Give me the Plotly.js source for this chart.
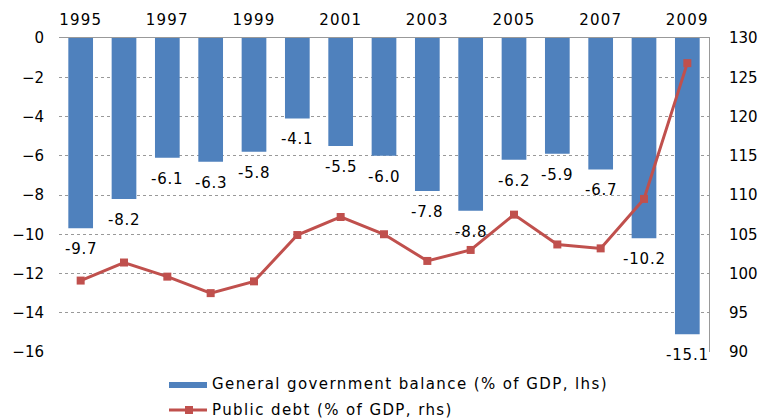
<!DOCTYPE html>
<html><head><meta charset="utf-8">
<script src="https://cdn.plot.ly/plotly-3.0.1.min.js"></script>
<style>html,body{margin:0;padding:0;background:#fff}#chart{width:761px;height:418px}</style>
</head><body><div id="chart"></div>
<script>
const years = [1995,1996,1997,1998,1999,2000,2001,2002,2003,2004,2005,2006,2007,2008,2009];
const balance = [-9.7,-8.2,-6.1,-6.3,-5.8,-4.1,-5.5,-6.0,-7.8,-8.8,-6.2,-5.9,-6.7,-10.2,-15.1];
const debt = [99.1,101.4,99.6,97.5,99.0,104.9,107.2,105.0,101.6,103.0,107.5,103.7,103.2,109.5,126.8];
const yearTicks = [1995,1997,1999,2001,2003,2005,2007,2009];
const balanceName = 'General government balance (% of GDP, lhs)';
const debtName = 'Public debt (% of GDP, rhs)';

const FAM = 'DejaVu Sans, Verdana, sans-serif';
const barColor = '#4F81BD', lineColor = '#C0504D';
const spaced = (s, ls) => '<span style="letter-spacing:' + ls + 'px">' + s + '</span>';

const traces = [
  {type: 'bar', x: years, y: balance, name: balanceName,
   marker: {color: barColor}, width: 0.57, showlegend: false},
  {type: 'scatter', mode: 'lines+markers', x: years, y: debt, yaxis: 'y2', name: debtName,
   line: {color: lineColor, width: 3}, marker: {symbol: 'square', size: 8, color: lineColor},
   showlegend: false, cliponaxis: false}
];

// data labels below each bar end
const annotations = years.map((yr, i) => ({
  x: yr, y: balance[i], xref: 'x', yref: 'y', text: spaced(balance[i].toFixed(1), 0.8),
  showarrow: false, yanchor: 'top', yshift: -10, font: {family: FAM, size: 15, color: '#000'}
}));

// custom legend (wide swatches like the reference)
const px = v => (v - 59) / 650, py = v => (352 - v) / 314;
const shapes = [
  {type: 'rect', xref: 'paper', yref: 'paper', x0: px(169), x1: px(207), y0: py(382), y1: py(388),
   fillcolor: barColor, line: {width: 0}},
  {type: 'line', xref: 'paper', yref: 'paper', x0: px(169), x1: px(207), y0: py(410), y1: py(410),
   line: {color: lineColor, width: 3}},
  {type: 'rect', xref: 'paper', yref: 'paper', x0: px(185), x1: px(193), y0: py(406), y1: py(414),
   fillcolor: lineColor, line: {width: 0}}
];
annotations.push(
  {xref: 'paper', yref: 'paper', x: px(210), y: py(384), xanchor: 'left', yanchor: 'middle',
   text: spaced(balanceName, 1.4), showarrow: false, font: {family: FAM, size: 15, color: '#000'}},
  {xref: 'paper', yref: 'paper', x: px(210), y: py(410), xanchor: 'left', yanchor: 'middle',
   text: spaced(debtName, 1.4), showarrow: false, font: {family: FAM, size: 15, color: '#000'}}
);

const layout = {
  width: 761, height: 418,
  margin: {l: 59, r: 52, t: 38, b: 66},
  paper_bgcolor: '#fff', plot_bgcolor: '#fff',
  font: {family: FAM, size: 15, color: '#000'},
  showlegend: false,
  xaxis: {side: 'top', range: [1994.5, 2009.5], tickvals: yearTicks,
          ticktext: yearTicks.map(y => spaced(String(y), 1.2)),
          showgrid: false, zeroline: false, showline: true, linecolor: '#999', linewidth: 1,
          ticks: '', tickfont: {family: FAM, size: 15, color: '#000'}, ticklabelstandoff: 6},
  yaxis: {range: [-16, 0], dtick: 2, showgrid: true, gridcolor: '#999', griddash: 'dot', gridwidth: 1,
          zeroline: false, showline: false, ticks: '', tickfont: {family: FAM, size: 15, color: '#000'},
          ticklabelstandoff: 14},
  yaxis2: {overlaying: 'y', side: 'right', range: [90, 130], dtick: 5, showgrid: false, zeroline: false,
           showline: true, linecolor: '#999', linewidth: 1, ticks: '',
           tickfont: {family: FAM, size: 15, color: '#000'}, ticklabelstandoff: 16},
  shapes: shapes,
  annotations: annotations
};
Plotly.newPlot('chart', traces, layout, {displayModeBar: false, staticPlot: true});
</script></body></html>
